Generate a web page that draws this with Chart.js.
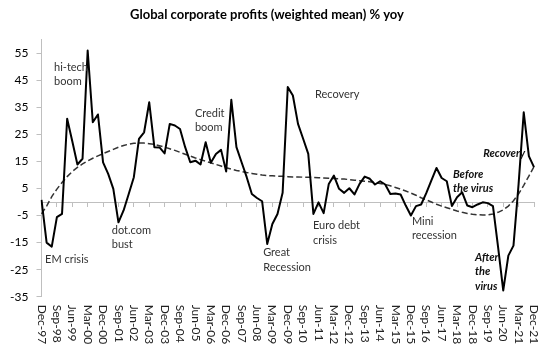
<!DOCTYPE html>
<html><head><meta charset="utf-8">
<script src="https://cdn.jsdelivr.net/npm/chart.js@4/dist/chart.umd.min.js"></script>
<style>html,body{margin:0;padding:0;background:#fff}#wrap{width:540px;height:351px}</style>
</head><body><div id="wrap"><canvas id="c" width="540" height="351"></canvas></div>
<script>
const titleText = 'Global corporate profits (weighted mean) % yoy';

const categories = ['Dec-97',
 'Mar-98','Jun-98','Sep-98','Dec-98','Mar-99','Jun-99','Sep-99','Dec-99',
 'Mar-00','Jun-00','Sep-00','Dec-00','Mar-01','Jun-01','Sep-01','Dec-01',
 'Mar-02','Jun-02','Sep-02','Dec-02','Mar-03','Jun-03','Sep-03','Dec-03',
 'Mar-04','Jun-04','Sep-04','Dec-04','Mar-05','Jun-05','Sep-05','Dec-05',
 'Mar-06','Jun-06','Sep-06','Dec-06','Mar-07','Jun-07','Sep-07','Dec-07',
 'Mar-08','Jun-08','Sep-08','Dec-08','Mar-09','Jun-09','Sep-09','Dec-09',
 'Mar-10','Jun-10','Sep-10','Dec-10','Mar-11','Jun-11','Sep-11','Dec-11',
 'Mar-12','Jun-12','Sep-12','Dec-12','Mar-13','Jun-13','Sep-13','Dec-13',
 'Mar-14','Jun-14','Sep-14','Dec-14','Mar-15','Jun-15','Sep-15','Dec-15',
 'Mar-16','Jun-16','Sep-16','Dec-16','Mar-17','Jun-17','Sep-17','Dec-17',
 'Mar-18','Jun-18','Sep-18','Dec-18','Mar-19','Jun-19','Sep-19','Dec-19',
 'Mar-20','Jun-20','Sep-20','Dec-20','Mar-21','Jun-21','Sep-21','Dec-21'];

const profits = [0.8,
 -15.0,-16.5,-5.6,-4.4,30.8,22.5,13.9,16.0,
 56.0,29.5,32.4,14.7,10.4,4.9,-7.5,-3.1,
 3.0,9.2,23.4,25.8,36.9,20.3,20.2,18.0,
 28.9,28.3,27.0,20.3,14.7,15.3,13.9,22.1,
 14.5,17.8,19.3,11.3,37.8,20.3,14.7,9.2,
 3.0,1.5,0.3,-15.5,-8.1,-4.4,3.4,42.5,
 39.4,28.9,23.4,17.8,-4.4,-0.1,-4.1,6.7,
 9.8,4.9,3.4,5.1,2.8,6.7,9.4,8.6,
 6.5,7.7,6.5,3.0,3.2,2.8,-1.3,-5.0,
 -1.5,-0.9,3.3,8.0,12.6,8.9,7.7,-1.5,
 1.8,3.6,-1.3,-1.9,-0.9,-0.1,-0.4,-1.5,
 -16.7,-32.7,-19.8,-16.1,6.7,33.2,17.0,12.9];

const trend = [-4.4,
 -1.5,2.0,4.8,7.2,9.4,11.3,12.8,14.1,
 15.2,16.2,17.1,17.9,18.7,19.5,20.3,20.9,
 21.4,21.7,21.8,21.8,21.6,21.3,20.8,20.3,
 19.7,19.1,18.4,17.7,17.0,16.3,15.7,15.1,
 14.5,13.9,13.3,12.7,12.2,11.7,11.3,10.9,
 10.6,10.3,10.0,9.8,9.7,9.6,9.5,9.4,
 9.3,9.3,9.2,9.2,9.1,9.0,8.9,8.8,
 8.7,8.6,8.5,8.3,8.1,7.9,7.7,7.5,
 7.2,6.9,6.5,6.0,5.4,4.8,4.1,3.3,
 2.5,1.6,0.8,0.0,-0.8,-1.5,-2.1,-2.7,
 -3.3,-3.8,-4.2,-4.5,-4.7,-4.8,-4.7,-4.4,
 -3.8,-2.9,-1.5,0.5,3.0,6.2,9.6,13.1];

const tickLabels = ['Dec-97','Sep-98','Jun-99','Mar-00','Dec-00','Sep-01','Jun-02','Mar-03','Dec-03',
 'Sep-04','Jun-05','Mar-06','Dec-06','Sep-07','Jun-08','Mar-09','Dec-09','Sep-10','Jun-11',
 'Mar-12','Dec-12','Sep-13','Jun-14','Mar-15','Dec-15','Sep-16','Jun-17','Mar-18','Dec-18',
 'Sep-19','Jun-20','Mar-21','Dec-21'];

const yTicks = [-35,-25,-15,-5,5,15,25,35,45,55];

// annotation texts, anchored in data coordinates (category position, value)
const notes = [
 {lines:['hi-tech','boom'], at:2.44, v:49.9, style:'normal'},
 {lines:['Credit','boom'], at:29.9, v:32.8, style:'normal'},
 {lines:['Recovery'], at:53.3, v:39.8, style:'normal'},
 {lines:['EM crisis'], at:0.7, v:-21.3, style:'normal'},
 {lines:['dot.com','bust'], at:13.7, v:-10.5, style:'normal'},
 {lines:['Great','Recession'], at:43.2, v:-18.8, style:'normal'},
 {lines:['Euro debt','crisis'], at:52.9, v:-8.7, style:'normal'},
 {lines:['Mini','recession'], at:72.2, v:-7.1, style:'normal'},
 {lines:['Before','the virus'], at:80.2, v:10.2, style:'bi'},
 {lines:['After','the','virus'], at:84.5, v:-20.5, style:'bi'},
 {lines:['Recovery'], at:86.1, v:18.0, style:'bi'}
];

const FONT = 'Lato, "Open Sans", "Liberation Sans", sans-serif';

const overlay = {
  id: 'overlay',
  afterDraw(chart) {
    const ctx = chart.ctx;
    const xs = chart.scales.x, ys = chart.scales.y;
    const area = chart.chartArea;
    ctx.save();
    // x category labels, rotated clockwise, reading top to bottom
    ctx.fillStyle = '#222';
    ctx.font = '12px ' + FONT;
    ctx.textAlign = 'left';
    ctx.textBaseline = 'middle';
    tickLabels.forEach(lab => {
      const idx = categories.indexOf(lab);
      const x = xs.getPixelForValue(idx);
      ctx.save();
      ctx.translate(x, area.bottom + 8);
      ctx.rotate(Math.PI / 2);
      ctx.fillText(lab, 0, 0);
      ctx.restore();
    });
    // annotations
    notes.forEach(n => {
      const x = xs.getPixelForValue(n.at);
      const y = ys.getPixelForValue(n.v);
      if (n.style === 'bi') {
        ctx.font = 'italic bold 11px ' + FONT;
        ctx.fillStyle = '#111';
      } else {
        ctx.font = '11px ' + FONT;
        ctx.fillStyle = '#333';
      }
      n.lines.forEach((t, k) => ctx.fillText(t, x, y + k * 14.4));
    });
    ctx.restore();
  }
};

new Chart(document.getElementById('c'), {
  type: 'line',
  data: {
    labels: categories,
    datasets: [
      { label: 'Profits', data: profits, borderColor: '#000', borderWidth: 2,
        pointRadius: 0, tension: 0, borderJoinStyle: 'round', order: 1 },
      { label: 'Trend', data: trend, borderColor: '#333', borderWidth: 1.5,
        borderDash: [6, 3], pointRadius: 0, tension: 0, order: 2 }
    ]
  },
  options: {
    responsive: false, animation: false, devicePixelRatio: 1,
    layout: { padding: { left: 0, right: 6, top: 0, bottom: 54.3 } },
    plugins: {
      legend: { display: false },
      tooltip: { enabled: false },
      title: { display: true, text: titleText, color: '#000',
        font: { family: FONT, size: 13, weight: 'bold', lineHeight: 1.2 },
        padding: { top: 7, bottom: 17.2 } }
    },
    scales: {
      x: {
        type: 'category', position: { y: 0 }, offset: false,
        grid: { drawOnChartArea: false, drawTicks: true, tickLength: 4, lineWidth: 1,
          color: ctx => (ctx.index % 3 === 0 ? '#bfbfbf' : 'rgba(0,0,0,0)') },
        border: { display: true, color: '#bfbfbf', width: 1 },
        ticks: { display: false, autoSkip: false }
      },
      y: {
        min: -35, max: 60, position: 'left',
        grid: { drawOnChartArea: false, drawTicks: true, tickLength: 5, color: '#bfbfbf' },
        border: { display: true, color: '#bfbfbf', width: 1 },
        ticks: { color: '#000', padding: 8, font: { family: FONT, size: 12 } },
        afterBuildTicks: s => { s.ticks = yTicks.map(v => ({ value: v })); },
        afterFit: s => { s.width = 41.5; }
      }
    }
  },
  plugins: [overlay]
});
</script></body></html>
